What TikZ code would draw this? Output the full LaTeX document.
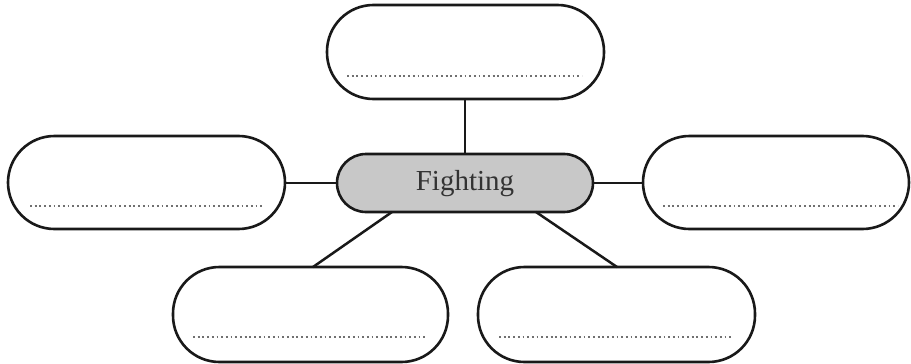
\documentclass[tikz,border=0pt]{standalone}
\usepackage{fontspec}
\setmainfont{Liberation Serif}
\definecolor{boxgray}{HTML}{C8C8C8}
\definecolor{dotgray}{HTML}{707070}
\definecolor{txtgray}{HTML}{333333}
\tikzset{
  bubble/.style={draw=black!90, line width=2.6pt, rounded corners=46.5pt, fill=white},
  hub/.style={draw=black!90, line width=2.6pt, rounded corners=29pt, fill=boxgray},
  link/.style={draw=black!90, line width=2.5pt},
  dotline/.style={draw=dotgray, line width=1.8pt, dash pattern=on 1.8pt off 2.9pt}
}
\begin{document}
\begin{tikzpicture}[x=1pt,y=-1pt]
\useasboundingbox (0,0) rectangle (911,364);
% boxes
\draw[bubble] (327,5) rectangle (604,99);
\draw[bubble] (8,136) rectangle (285,229);
\draw[bubble] (643,136) rectangle (909,229);
\draw[bubble] (173,267) rectangle (448,362);
\draw[bubble] (478,267) rectangle (755,362);
\draw[hub] (337,154) rectangle (593,212);
\node[text=txtgray, font=\fontsize{29}{34}\selectfont] (hub) at (465,184) {Fighting};
% connector anchor coordinates
\coordinate (tb) at (465,99);
\coordinate (ht) at (465,154);
\coordinate (lb) at (285,183);
\coordinate (hl) at (337,183);
\coordinate (rb) at (643,183);
\coordinate (hr) at (593,183);
\coordinate (blb) at (313,267);
\coordinate (hbl) at (392,212);
\coordinate (brb) at (617,267);
\coordinate (hbr) at (536,212);
\draw[link] (tb) -- (ht);
\draw[link] (lb) -- (hl);
\draw[link] (hr) -- (rb);
\draw[link] (hbl) -- (blb);
\draw[link] (hbr) -- (brb);
% dotted lines
\coordinate (d1a) at (347,76); \coordinate (d1b) at (582,76);
\coordinate (d2a) at (30,206); \coordinate (d2b) at (263,206);
\coordinate (d3a) at (663,206); \coordinate (d3b) at (898,206);
\coordinate (d4a) at (193,337); \coordinate (d4b) at (427,337);
\coordinate (d5a) at (499,337); \coordinate (d5b) at (733,337);
\draw[dotline] (d1a) -- (d1b);
\draw[dotline] (d2a) -- (d2b);
\draw[dotline] (d3a) -- (d3b);
\draw[dotline] (d4a) -- (d4b);
\draw[dotline] (d5a) -- (d5b);
\end{tikzpicture}
\end{document}
